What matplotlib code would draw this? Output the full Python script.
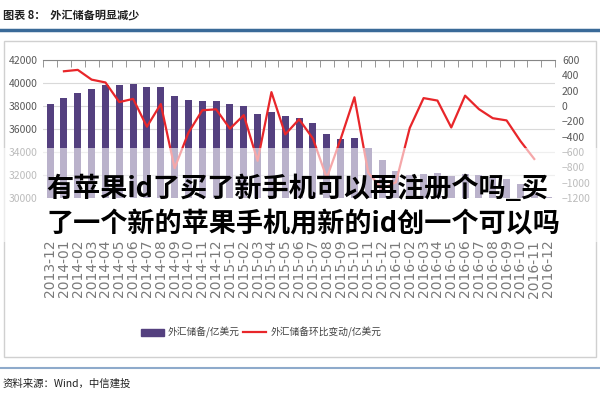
import numpy as np
import matplotlib
matplotlib.use('Agg')
import matplotlib.pyplot as plt
from matplotlib.patches import Rectangle
from matplotlib.lines import Line2D

plt.rcParams['font.family'] = ['Noto Sans CJK SC', 'DejaVu Sans']

months = ['2013-12',
          '2014-01', '2014-02', '2014-03', '2014-04', '2014-05', '2014-06',
          '2014-07', '2014-08', '2014-09', '2014-10', '2014-11', '2014-12',
          '2015-01', '2015-02', '2015-03', '2015-04', '2015-05', '2015-06',
          '2015-07', '2015-08', '2015-09', '2015-10', '2015-11', '2015-12',
          '2016-01', '2016-02', '2016-03', '2016-04', '2016-05', '2016-06',
          '2016-07', '2016-08', '2016-09', '2016-10', '2016-11', '2016-12']

# 外汇储备/亿美元
reserves = [38213,
            38666, 39137, 39481, 39788, 39839, 39932,
            39662, 39688, 38877, 38529, 38473, 38430,
            38134, 38015, 37300, 37481, 37111, 36938,
            36513, 35574, 35141, 35255, 34383, 33304,
            32309, 32023, 32126, 32197, 31917, 32052,
            32011, 31852, 31664, 31207, 30516, 30105]

# 外汇储备环比变动/亿美元 (no value plotted for the first and last month)
change = [np.nan,
          453, 471, 344, 307, 51, 93,
          -270, 26, -811, -348, -56, -43,
          -296, -119, -715, 181, -370, -173,
          -425, -939, -433, 114, -872, -1079,
          -995, -286, 103, 71, -280, 135,
          -41, -159, -188, -457, -691, np.nan]

bar_label = '外汇储备/亿美元'
line_label = '外汇储备环比变动/亿美元'
title = '图表 8：  外汇储备明显减少'
source = '资料来源：Wind，中信建投'
overlay = ['有苹果id了买了新手机可以再注册个吗_买',
           '了一个新的苹果手机用新的id创一个可以吗']

purple = '#54407f'
red = '#e8262a'
gray = '#595959'

fig = plt.figure(figsize=(6, 4), dpi=100)
ax = fig.add_axes([0.072, 0.505, 0.853, 0.345])
ax2 = ax.twinx()

x = np.arange(len(months))
ax.bar(x, np.array(reserves) - 30000, 0.5, bottom=30000, color=purple, zorder=2)
ax2.plot(x, change, color=red, lw=1.6, zorder=3)

ax.set_xlim(-0.5, len(months) - 0.5)
ax.set_ylim(30000, 42000)
ax.set_yticks(np.arange(30000, 42001, 2000))
ax2.set_ylim(-1200, 600)
ax2.set_yticks(np.arange(-1200, 601, 200))

ax.grid(axis='y', color='#d9d9d9', lw=0.8, zorder=0)
ax.set_axisbelow(True)

for a in (ax, ax2):
    for s in ('left', 'right', 'bottom', 'top'):
        a.spines[s].set_visible(False)
ax.spines['top'].set_visible(True)
ax.spines['top'].set_color('#868686')

ax.set_xticks(x)
ax.set_xticklabels(months, rotation=90, color='#7a7a7a', fontsize=10,
                   family=['DejaVu Sans'])
ax.set_xticks(np.arange(-0.5, len(months)), minor=True)
ax.tick_params(axis='x', which='major', length=0, pad=30, bottom=True, top=False)
ax.tick_params(axis='x', which='minor', top=True, bottom=False, direction='in',
               length=5, color='#868686')
ax.tick_params(axis='y', length=0, labelsize=7.5, labelcolor=gray, pad=4)
ax2.tick_params(axis='y', length=0, labelsize=7.5, labelcolor=gray, pad=5)

# outer chart frame
fig.add_artist(Rectangle((0.006, 0.108), 0.988, 0.79, transform=fig.transFigure,
                         fill=False, ec='#d0d0d0', lw=1))
fig.add_artist(Line2D([0, 1], [0.925, 0.925], transform=fig.transFigure,
                      color='#3a6a98', lw=2.5))
fig.add_artist(Line2D([0, 1], [0.08, 0.08], transform=fig.transFigure,
                      color='#8eaacb', lw=1.5))

fig.text(0.005, 0.962, title, fontsize=8, fontweight='bold', va='center',
         color='#202020')
fig.text(0.005, 0.042, source, fontsize=7.5, style='italic', va='center',
         color='#202020')

handles = [Rectangle((0, 0), 1, 1, color=purple),
           Line2D([], [], color=red, lw=1.6)]
fig.legend(handles, [bar_label, line_label], loc='center',
           bbox_to_anchor=(0.435, 0.168), ncol=2, frameon=False, fontsize=7,
           labelcolor='#404040', handlelength=2.4, columnspacing=0.3,
           handletextpad=0.4)

# translucent watermark band with title text
fig.add_artist(Rectangle((0, 0.395), 1, 0.235, transform=fig.transFigure,
                         fc='white', ec='none', alpha=0.6, zorder=5))
fig.text(0.078, 0.528, overlay[0], fontsize=19.5, fontweight='bold', va='center',
         ha='left', color='black', zorder=6)
fig.text(0.078, 0.44, overlay[1], fontsize=19.5, fontweight='bold', va='center',
         ha='left', color='black', zorder=6)

fig.savefig('out.png', dpi=100, facecolor='white')
